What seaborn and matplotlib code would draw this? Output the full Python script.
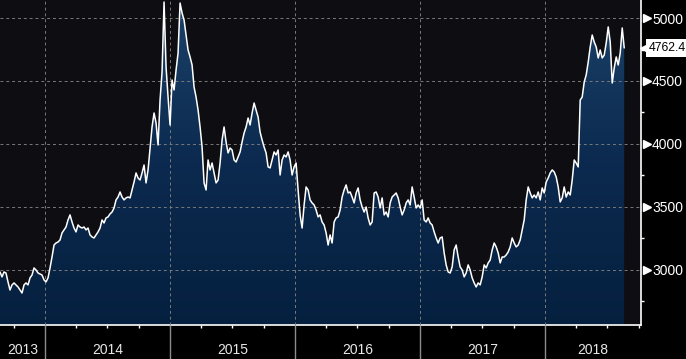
import numpy as np
import pandas as pd
import matplotlib
matplotlib.use("Agg")
import matplotlib.pyplot as plt
import matplotlib.dates as mdates
import matplotlib.transforms as mtransforms
from matplotlib.colors import LinearSegmentedColormap
import seaborn as sns

# ---------------- data ----------------
start_date = "2013-08-22"
end_date = "2018-08-19"
view_end = "2018-10-07"
values = [
    2984, 2945, 2984, 2976, 2905, 2841, 2881, 2897, 2881, 2865,
    2841, 2817, 2881, 2897, 2881, 2937, 2960, 3016, 3000, 2976,
    2968, 2960, 2921, 2905, 2937, 3016, 3103, 3198, 3214, 3222,
    3238, 3294, 3318, 3341, 3397, 3437, 3381, 3333, 3302, 3357,
    3341, 3333, 3341, 3318, 3333, 3278, 3262, 3254, 3278, 3302,
    3333, 3397, 3373, 3413, 3421, 3445, 3460, 3492, 3556, 3579,
    3619, 3579, 3556, 3572, 3579, 3572, 3635, 3698, 3770, 3730,
    3714, 3770, 3833, 3691, 3794, 3968, 4135, 4246, 4167, 3992,
    4349, 4572, 5127, 4611, 4373, 4151, 4508, 4429, 4587, 4722,
    5119, 5040, 4984, 4865, 4746, 4691, 4627, 4452, 4373, 4270,
    4135, 3976, 3691, 3635, 3873, 3794, 3849, 3770, 3691, 3714,
    3849, 4032, 4135, 4016, 3929, 3968, 3952, 3873, 3857, 3897,
    3937, 4016, 4087, 4135, 4206, 4151, 4246, 4325, 4270, 4214,
    4095, 4032, 3976, 3929, 3818, 3810, 3873, 3937, 3913, 3952,
    3754, 3873, 3913, 3897, 3937, 3873, 3754, 3818, 3849, 3635,
    3437, 3333, 3516, 3659, 3635, 3556, 3532, 3516, 3476, 3421,
    3437, 3381, 3357, 3294, 3198, 3278, 3214, 3381, 3413, 3421,
    3476, 3579, 3635, 3675, 3611, 3619, 3579, 3532, 3611, 3651,
    3556, 3500, 3460, 3500, 3413, 3357, 3381, 3611, 3619, 3579,
    3492, 3572, 3437, 3460, 3421, 3532, 3579, 3595, 3611, 3572,
    3500, 3437, 3476, 3532, 3556, 3516, 3659, 3579, 3492, 3516,
    3492, 3556, 3397, 3381, 3413, 3373, 3357, 3302, 3254, 3214,
    3254, 3262, 3135, 3040, 2984, 2976, 3024, 3159, 3198, 3103,
    3024, 3000, 2945, 2976, 3040, 3000, 2937, 2897, 2865, 2897,
    2881, 2945, 3040, 3016, 3056, 3079, 3159, 3214, 3183, 3135,
    3056, 3103, 3103, 3119, 3143, 3183, 3254, 3214, 3183, 3198,
    3238, 3318, 3397, 3556, 3659, 3611, 3572, 3595, 3572, 3619,
    3556, 3651, 3611, 3698, 3730, 3770, 3794, 3778, 3738, 3659,
    3540, 3572, 3659, 3579, 3619, 3595, 3714, 3873, 3849, 3818,
    4349, 4373, 4492, 4548, 4651, 4770, 4865, 4810, 4770, 4683,
    4746, 4683, 4706, 4802, 4929, 4810, 4484, 4603, 4691, 4627,
    4722, 4921, 4762.4,
]
last_value = 4762.4
last_label = "4762.4"
year_labels = ["2013", "2014", "2015", "2016", "2017", "2018"]
y_ticks = [3000, 3500, 4000, 4500, 5000]
y_minor = [2750, 3250, 3750, 4250, 4750]
y_limits = (2563, 5143)

dates = pd.date_range(start_date, end_date, periods=len(values))
df = pd.DataFrame({"date": dates, "value": values})

# ---------------- style ----------------
sns.set_theme(style="dark")
plt.rcParams["font.family"] = ["Liberation Sans", "DejaVu Sans"]

W, H = 686, 359
fig = plt.figure(figsize=(W / 100, H / 100), dpi=100, facecolor="black")
ax = fig.add_axes([0, 34 / H, 641 / W, 325 / H])
ax.set_facecolor("#0d0d12")

xmin = pd.Timestamp(start_date)
xmax = pd.Timestamp(view_end)

# gradient area
poly = ax.fill_between(df["date"], df["value"], y_limits[0], color="none", lw=0)
grad = np.linspace(0, 1, 256).reshape(-1, 1)
cmap = LinearSegmentedColormap.from_list("g", ["#05203f", "#0c2a4f", "#1b4169"])
im = ax.imshow(grad, cmap=cmap, aspect="auto", origin="lower",
               extent=[mdates.date2num(xmin), mdates.date2num(xmax), y_limits[0], y_limits[1]],
               zorder=1, interpolation="bilinear")
im.set_clip_path(poly.get_paths()[0], transform=ax.transData)

sns.lineplot(data=df, x="date", y="value", color="white", lw=1.1, ax=ax, zorder=3)

ax.set_xlim(xmin, xmax)
ax.set_ylim(*y_limits)
ax.set_xlabel("")
ax.set_ylabel("")

# grid
ax.set_axisbelow(False)
ax.grid(True, which="major", color="#7a7a7a", ls=(0, (3, 3)), lw=0.7, zorder=2.5)

# y axis on right
ax.yaxis.tick_right()
ax.set_yticks(y_ticks)
ax.set_yticks(y_minor, minor=True)
ax.set_yticklabels([str(v) for v in y_ticks])
ax.tick_params(axis="y", which="major", length=0, pad=8, labelsize=10, labelcolor="white")
ax.tick_params(axis="y", which="minor", length=2.5, width=1, color="white", direction="out")
ax.tick_params(axis="y", which="both", left=False, labelleft=False, right=True, labelright=True)

tri_tr = mtransforms.blended_transform_factory(ax.transAxes, ax.transData)
ax.plot([1.0095] * len(y_ticks), y_ticks, ls="none", marker=">", ms=5.5, color="white",
        transform=tri_tr, clip_on=False, zorder=5)

# x axis
ax.xaxis.set_major_locator(mdates.YearLocator())
ax.xaxis.set_minor_locator(mdates.MonthLocator(bymonth=[1, 4, 7, 10]))
ax.tick_params(axis="x", which="major", length=25, width=1, color="#8c8c8c",
               direction="out", labelbottom=False, bottom=True)
ax.tick_params(axis="x", which="minor", length=2.5, width=1, color="white",
               direction="out", bottom=True)

lab_tr = mtransforms.blended_transform_factory(ax.transData, ax.transAxes)
for lab in year_labels:
    y = int(lab)
    a = max(pd.Timestamp(f"{y}-01-01"), xmin)
    b = min(pd.Timestamp(f"{y + 1}-01-01"), xmax)
    mid = a + (b - a) / 2
    ax.text(mdates.date2num(mid), -0.077, lab, transform=lab_tr, ha="center", va="center",
            color="#e8e8e8", fontsize=10)

for s in ["left", "top"]:
    ax.spines[s].set_visible(False)
for s in ["right", "bottom"]:
    ax.spines[s].set_visible(True)
    ax.spines[s].set_color("white")
    ax.spines[s].set_linewidth(1.2)

# last value label
ax.plot([1.0065], [last_value], ls="none", marker="<", ms=7, color="white",
        transform=tri_tr, clip_on=False, zorder=6)
ax.text(1.0 + 8 / 641, last_value, last_label, transform=tri_tr, ha="left", va="center",
        color="black", fontsize=8.8, clip_on=False, zorder=7,
        bbox=dict(boxstyle="square,pad=0.25", fc="white", ec="none"))

fig.savefig("out.png", dpi=100, facecolor="black")
